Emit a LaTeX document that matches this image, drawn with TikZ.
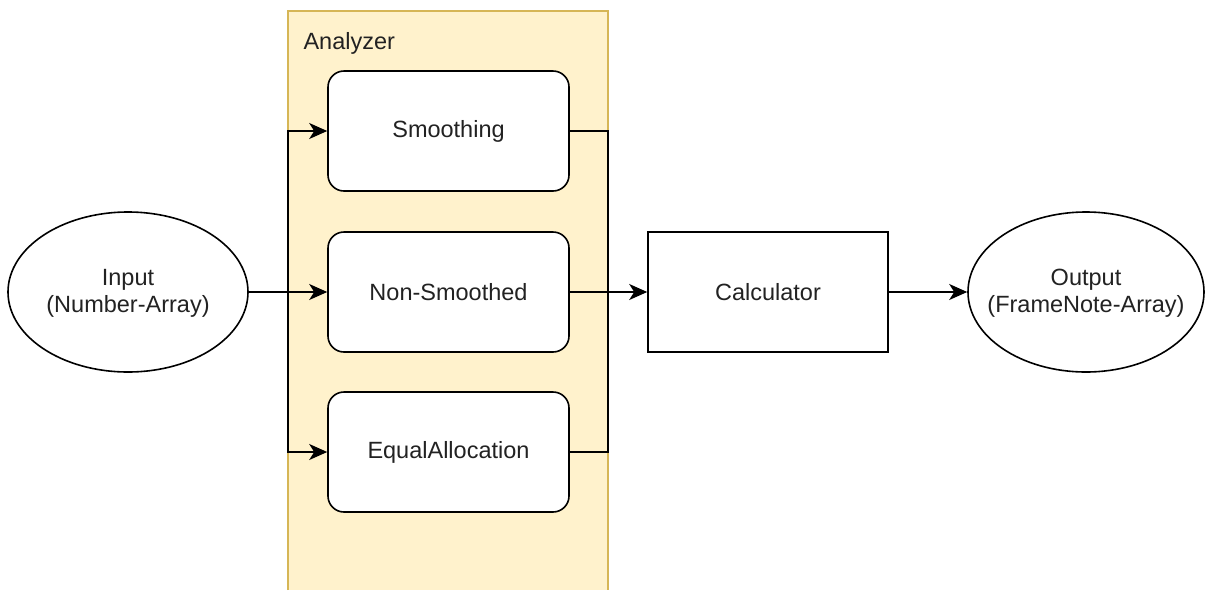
\documentclass[tikz,border=0pt]{standalone}
\usepackage{fontspec}
\setmainfont{Liberation Sans}
\usetikzlibrary{arrows.meta,shapes.geometric}
\definecolor{groupfill}{HTML}{FFF2CC}
\definecolor{groupline}{HTML}{D6B656}
\definecolor{inktext}{HTML}{222222}
\tikzset{
  lbl/.style={font=\fontsize{23.5}{27}\selectfont, text=inktext, align=center},
  block/.style={lbl, draw, line width=1.6pt, fill=white, rounded corners=16pt,
                minimum width=241pt, minimum height=120pt, inner sep=0pt},
  plainbox/.style={lbl, draw, line width=1.6pt, fill=white,
                minimum width=240pt, minimum height=120pt, inner sep=0pt},
  terminal/.style={draw, ellipse, line width=1.6pt, fill=white,
                minimum height=160pt, inner sep=0pt},
  wire/.style={line width=1.6pt},
  arr/.style={wire, -{Stealth[length=18pt,width=16pt,inset=5pt]}}
}
\begin{document}
\begin{tikzpicture}[x=1pt,y=-1pt]
  \useasboundingbox (0,0) rectangle (1205,590);

  % Analyzer group container (open at the bottom edge)
  \fill[groupfill] (288,11) rectangle (608,590);
  \draw[groupline, line width=1.2pt] (288,590) -- (288,11) -- (608,11) -- (608,590);
  \node[lbl, anchor=west] (grouplbl) at (300,43) {Analyzer};

  % Terminals (fixed-size ellipses, text placed at the centre)
  \node[terminal, minimum width=240pt,
        label={[lbl, yshift=-1pt]center:Input\\(Number-Array)}] (inp) at (128,292) {};
  \node[terminal, minimum width=236pt,
        label={[lbl, yshift=-1pt]center:Output\\(FrameNote-Array)}] (outp) at (1086,292) {};

  % Analyzer stages
  \node[block] (sm) at (448.5,131) {\raisebox{-2pt}{Smoothing}};
  \node[block] (ns) at (448.5,292) {\raisebox{-2pt}{Non-Smoothed}};
  \node[block] (ea) at (448.5,452) {\raisebox{-2pt}{EqualAllocation}};

  % Calculator
  \node[plainbox] (calc) at (768,292) {\raisebox{-1pt}{Calculator}};

  % Split and join points on the group border
  \coordinate (splitL) at (288,292);
  \coordinate (joinR) at (608,292);

  % Input fan-out
  \draw[arr] (inp.east) -- (ns.west);
  \draw[arr] (splitL) |- (sm.west);
  \draw[arr] (splitL) |- (ea.west);

  % Fan-in to calculator
  \draw[wire] (sm.east) -| (joinR);
  \draw[wire] (ea.east) -| (joinR);
  \draw[arr] (ns.east) -- (calc.west);

  % Result
  \draw[arr] (calc.east) -- (outp.west);
\end{tikzpicture}
\end{document}
